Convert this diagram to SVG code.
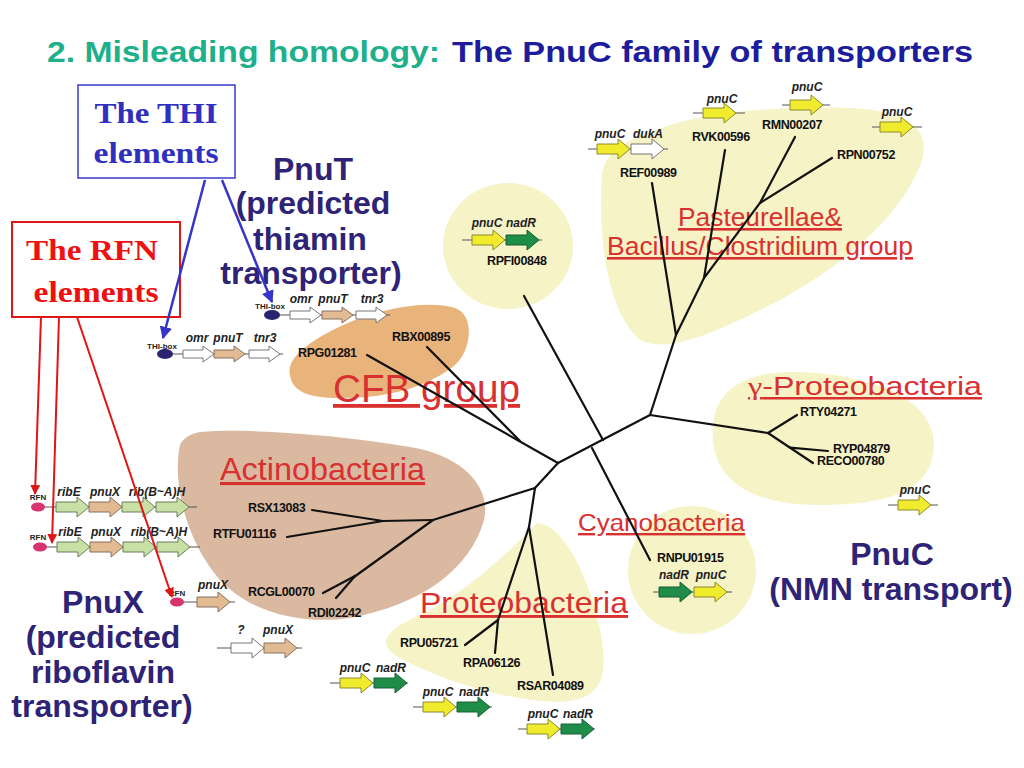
<svg xmlns="http://www.w3.org/2000/svg" xmlns:xlink="http://www.w3.org/1999/xlink" width="1024" height="768" viewBox="0 0 1024 768">
<style>
text{font-family:"Liberation Sans",Arial,sans-serif}
.ttl{font-size:30px;font-weight:bold}
.big{font-size:32px;font-weight:bold;fill:#2e2375;text-anchor:middle}
.box{font-family:"Liberation Serif","Times New Roman",serif;font-size:30px;font-weight:bold;text-anchor:middle}
.grp{fill:#d93030;text-decoration:underline}
.id{font-size:12.5px;font-weight:bold;fill:#111;letter-spacing:-0.4px}
.gn{font-size:12px;font-weight:bold;font-style:italic;fill:#222;text-anchor:middle}
.sm{font-size:8px;font-weight:bold;fill:#222;text-anchor:middle}
.tree{stroke:#111;stroke-width:2.2;fill:none;stroke-linecap:round}
.gl{stroke:#555;stroke-width:1}
.yel{fill:#f1eb2e;stroke:#8b8a2a;stroke-width:1}
.grn{fill:#1f8c48;stroke:#156038;stroke-width:1}
.lgr{fill:#c9e0a5;stroke:#6b7d5c;stroke-width:1}
.tan{fill:#e2bb93;stroke:#86705e;stroke-width:1}
.wht{fill:#ffffff;stroke:#777;stroke-width:1}
.ylb{fill:#f6f3c7}
</style>
<defs>
<path id="ga" d="M0,-5 H21 V-10 L33,0 L21,10 V5 H0 Z"/>
<path id="gs" d="M0,-4 H20 V-8 L31,0 L20,8 V4 H0 Z"/>
<marker id="mb" viewBox="0 0 10 10" refX="9" refY="5" markerWidth="5" markerHeight="5" orient="auto"><path d="M0,0 L10,5 L0,10 Z" fill="#3535c8"/></marker>
<marker id="mr" viewBox="0 0 10 10" refX="9" refY="5" markerWidth="5" markerHeight="5" orient="auto"><path d="M0,0 L10,5 L0,10 Z" fill="#e01515"/></marker>
</defs>
<rect width="1024" height="768" fill="#fff"/>

<g id="title">
<text class="ttl" x="47" y="62" fill="#1db08a" textLength="393" lengthAdjust="spacingAndGlyphs">2. Misleading homology:</text>
<text class="ttl" x="452" y="62" fill="#1c1c9c" textLength="521" lengthAdjust="spacingAndGlyphs">The PnuC family of transporters</text>
</g>

<g id="blobs">
<path id="blob-pasteurellae" class="ylb" d="M602,175 C598,230 605,310 640,340 C670,355 720,330 780,300 C850,262 905,210 922,160 C932,125 900,110 850,108 C790,106 720,110 670,125 C630,138 604,150 602,175 Z"/>
<ellipse id="blob-rpfi" class="ylb" cx="508" cy="246" rx="65" ry="63"/>
<path id="blob-cfb" fill="#e9b47c" d="M290,375 C285,355 320,335 350,322 C385,307 430,300 455,308 C475,315 472,350 455,365 C430,385 395,398 340,398 C305,398 292,390 290,375 Z"/>
<path id="blob-actino" fill="#dab9a0" d="M180,445 C172,480 185,540 220,580 C250,612 300,625 350,618 C420,605 470,570 484,520 C492,485 460,455 410,447 C340,435 250,428 200,432 C188,434 182,440 180,445 Z"/>
<path id="blob-gamma" class="ylb" d="M713,440 C708,395 740,372 790,372 C860,372 935,395 934,445 C933,490 890,505 820,505 C750,505 716,480 713,440 Z"/>
<path id="blob-proteo" class="ylb" d="M537,523 C565,525 590,580 600,630 C610,680 600,700 560,702 C510,702 440,680 400,658 C375,645 385,630 420,615 C470,590 505,555 537,523 Z"/>
<circle id="blob-cyano" class="ylb" cx="692" cy="570" r="64"/>
</g>

<g id="group-labels">
<text class="grp" x="678" y="226" font-size="26" textLength="164" lengthAdjust="spacingAndGlyphs">Pasteurellae&amp;</text>
<text class="grp" x="607" y="255" font-size="26" textLength="306" lengthAdjust="spacingAndGlyphs">Bacillus/Clostridium group</text>
<text class="grp" x="333" y="402" font-size="38" textLength="187" lengthAdjust="spacingAndGlyphs">CFB group</text>
<text class="grp" x="748" y="395" font-size="25" textLength="234" lengthAdjust="spacingAndGlyphs"><tspan font-family="Liberation Serif,serif">γ</tspan>-Proteobacteria</text>
<text class="grp" x="220" y="480" font-size="31" textLength="205" lengthAdjust="spacingAndGlyphs">Actinobacteria</text>
<text class="grp" x="578" y="531" font-size="24" textLength="167" lengthAdjust="spacingAndGlyphs">Cyanobacteria</text>
<text class="grp" x="420" y="613" font-size="29" textLength="208" lengthAdjust="spacingAndGlyphs">Proteobacteria</text>
</g>

<g id="tree" class="tree">
<path d="M367,355 L558,463"/>
<path d="M427,347 L520,441"/>
<path d="M558,463 L650,415"/>
<path d="M524,296 L603,440"/>
<path d="M592,448 L650,560"/>
<path d="M650,415 L768,433"/>
<path d="M768,433 L797,415"/>
<path d="M768,433 L813,463"/>
<path d="M790,447.7 L828,451"/>
<path d="M650,415 L676,335"/>
<path d="M652,183 L676,335"/>
<path d="M676,335 L704,278 L760,203 L795,137"/>
<path d="M725,150 L704,278"/>
<path d="M832,158 L760,203"/>
<path d="M558,463 L535,488"/>
<path d="M535,488 L433,520"/>
<path d="M433,520 L383,521"/>
<path d="M383,521 L312,510"/>
<path d="M383,521 L287,537"/>
<path d="M433,520 L354,577"/>
<path d="M355,576 L323,593"/>
<path d="M355,576 L336,598"/>
<path d="M535,488 L529,527"/>
<path d="M529,527 L498,620"/>
<path d="M498,620 L465,645"/>
<path d="M498,620 L495,653"/>
<path d="M529,527 L553,675"/>
</g>

<g id="leaf-labels" class="id">
<text x="620" y="177">REF00989</text>
<text x="692" y="141">RVK00596</text>
<text x="762" y="129">RMN00207</text>
<text x="837" y="159">RPN00752</text>
<text x="487" y="265">RPFI00848</text>
<text x="392" y="341">RBX00895</text>
<text x="298" y="357">RPG01281</text>
<text x="800" y="416">RTY04271</text>
<text x="833" y="453">RYP04879</text>
<text x="817" y="465">RECO00780</text>
<text x="248" y="512">RSX13083</text>
<text x="213" y="538">RTFU01116</text>
<text x="248" y="596">RCGL00070</text>
<text x="308" y="617">RDI02242</text>
<text x="657" y="562">RNPU01915</text>
<text x="400" y="647">RPU05721</text>
<text x="463" y="667">RPA06126</text>
<text x="517" y="690">RSAR04089</text>
</g>

<g id="operon-ref">
<line class="gl" x1="588" y1="149" x2="668" y2="149"/>
<use href="#ga" class="yel" transform="translate(597,149)"/>
<use href="#ga" class="wht" transform="translate(631,149)"/>
<text class="gn" x="610" y="138">pnuC</text><text class="gn" x="648" y="138">dukA</text>
</g>
<g id="operon-rvk">
<line class="gl" x1="693" y1="113" x2="745" y2="113"/>
<use href="#ga" class="yel" transform="translate(703,113)"/>
<text class="gn" x="722" y="103">pnuC</text>
</g>
<g id="operon-rmn">
<line class="gl" x1="782" y1="105" x2="830" y2="105"/>
<use href="#ga" class="yel" transform="translate(790,105)"/>
<text class="gn" x="807" y="91">pnuC</text>
</g>
<g id="operon-rpn">
<line class="gl" x1="872" y1="127" x2="922" y2="127"/>
<use href="#ga" class="yel" transform="translate(880,127)"/>
<text class="gn" x="897" y="116">pnuC</text>
</g>
<g id="operon-rpfi">
<line class="gl" x1="462" y1="240" x2="542" y2="240"/>
<use href="#ga" class="yel" transform="translate(472,240)"/>
<use href="#ga" class="grn" transform="translate(506,240)"/>
<text class="gn" x="487" y="227">pnuC</text><text class="gn" x="521" y="227">nadR</text>
</g>
<g id="operon-cyano">
<line class="gl" x1="653" y1="592" x2="732" y2="592"/>
<use href="#ga" class="grn" transform="translate(659,592)"/>
<use href="#ga" class="yel" transform="translate(694,592)"/>
<text class="gn" x="674" y="579">nadR</text><text class="gn" x="711" y="579">pnuC</text>
</g>
<g id="operon-gamma">
<line class="gl" x1="888" y1="505" x2="938" y2="505"/>
<use href="#ga" class="yel" transform="translate(898,505)"/>
<text class="gn" x="915" y="494">pnuC</text>
</g>
<g id="operon-proteo1">
<line class="gl" x1="330" y1="683" x2="408" y2="683"/>
<use href="#ga" class="yel" transform="translate(340,683)"/>
<use href="#ga" class="grn" transform="translate(374,683)"/>
<text class="gn" x="355" y="672">pnuC</text><text class="gn" x="391" y="672">nadR</text>
</g>
<g id="operon-proteo2">
<line class="gl" x1="413" y1="707" x2="492" y2="707"/>
<use href="#ga" class="yel" transform="translate(423,707)"/>
<use href="#ga" class="grn" transform="translate(457,707)"/>
<text class="gn" x="438" y="696">pnuC</text><text class="gn" x="474" y="696">nadR</text>
</g>
<g id="operon-proteo3">
<line class="gl" x1="518" y1="729" x2="595" y2="729"/>
<use href="#ga" class="yel" transform="translate(527,729)"/>
<use href="#ga" class="grn" transform="translate(561,729)"/>
<text class="gn" x="543" y="718">pnuC</text><text class="gn" x="578" y="718">nadR</text>
</g>

<g id="operon-thi-upper">
<line class="gl" x1="278" y1="315" x2="390" y2="315"/>
<ellipse cx="272" cy="315" rx="8" ry="5" fill="#2a2470"/>
<use href="#gs" class="wht" transform="translate(290,315)"/>
<use href="#gs" class="tan" transform="translate(322,315)"/>
<use href="#gs" class="wht" transform="translate(356,315)"/>
<text class="sm" x="270" y="309">THI-box</text>
<text class="gn" x="301" y="303">omr</text><text class="gn" x="333" y="303">pnuT</text><text class="gn" x="372" y="303">tnr3</text>
</g>
<g id="operon-thi-lower">
<line class="gl" x1="170" y1="354" x2="283" y2="354"/>
<ellipse cx="165" cy="354" rx="8" ry="5" fill="#2a2470"/>
<use href="#gs" class="wht" transform="translate(183,354)"/>
<use href="#gs" class="tan" transform="translate(214,354)"/>
<use href="#gs" class="wht" transform="translate(249,354)"/>
<text class="sm" x="162" y="349">THI-box</text>
<text class="gn" x="197" y="342">omr</text><text class="gn" x="228" y="342">pnuT</text><text class="gn" x="265" y="342">tnr3</text>
</g>

<g id="operon-rfn1">
<line class="gl" x1="43" y1="507" x2="197" y2="507"/>
<ellipse cx="38" cy="507" rx="7" ry="4.5" fill="#d6336f"/>
<use href="#ga" class="lgr" transform="translate(56,507)"/>
<use href="#ga" class="tan" transform="translate(89,507)"/>
<use href="#ga" class="lgr" transform="translate(122,507)"/>
<use href="#ga" class="lgr" transform="translate(156,507)"/>
<text class="sm" x="38" y="500">RFN</text>
<text class="gn" x="69" y="496">ribE</text><text class="gn" x="105" y="496">pnuX</text><text class="gn" x="157" y="496">rib(B~A)H</text>
</g>
<g id="operon-rfn2">
<line class="gl" x1="46" y1="547" x2="200" y2="547"/>
<ellipse cx="40" cy="547" rx="7" ry="4.5" fill="#d6336f"/>
<use href="#ga" class="lgr" transform="translate(57,547)"/>
<use href="#ga" class="tan" transform="translate(90,547)"/>
<use href="#ga" class="lgr" transform="translate(123,547)"/>
<use href="#ga" class="lgr" transform="translate(157,547)"/>
<text class="sm" x="38" y="540">RFN</text>
<text class="gn" x="70" y="536">ribE</text><text class="gn" x="106" y="536">pnuX</text><text class="gn" x="159" y="536">rib(B~A)H</text>
</g>
<g id="operon-rfn3">
<line class="gl" x1="182" y1="602" x2="235" y2="602"/>
<ellipse cx="177" cy="602" rx="7" ry="4.5" fill="#d6336f"/>
<use href="#ga" class="tan" transform="translate(197,602)"/>
<text class="sm" x="177" y="596">RFN</text>
<text class="gn" x="213" y="589">pnuX</text>
</g>
<g id="operon-q">
<line class="gl" x1="217" y1="648" x2="302" y2="648"/>
<use href="#ga" class="wht" transform="translate(231,648)"/>
<use href="#ga" class="tan" transform="translate(264,648)"/>
<text class="gn" x="241" y="634">?</text><text class="gn" x="278" y="634">pnuX</text>
</g>

<g id="thi-box">
<rect x="78" y="85" width="157" height="93" fill="#fff" stroke="#3a3ad0" stroke-width="1.5"/>
<text class="box" x="156" y="123" fill="#3030c0" textLength="123" lengthAdjust="spacingAndGlyphs">The THI</text>
<text class="box" x="156" y="163" fill="#3030c0" textLength="125" lengthAdjust="spacingAndGlyphs">elements</text>
</g>
<g id="rfn-box">
<rect x="12" y="222" width="168" height="95" fill="#fff" stroke="#e01515" stroke-width="2"/>
<text class="box" x="92" y="260" fill="#ee1111" textLength="132" lengthAdjust="spacingAndGlyphs">The RFN</text>
<text class="box" x="96" y="302" fill="#ee1111" textLength="125" lengthAdjust="spacingAndGlyphs">elements</text>
</g>

<g id="pnut-label">
<text class="big" x="313" y="180">PnuT</text>
<text class="big" x="313" y="214">(predicted</text>
<text class="big" x="310" y="250">thiamin</text>
<text class="big" x="311" y="284">transporter)</text>
</g>
<g id="pnux-label">
<text class="big" x="103" y="613">PnuX</text>
<text class="big" x="103" y="648">(predicted</text>
<text class="big" x="103" y="683">riboflavin</text>
<text class="big" x="102" y="717">transporter)</text>
</g>
<g id="pnuc-label">
<text class="big" x="892" y="565">PnuC</text>
<text class="big" x="891" y="600">(NMN transport)</text>
</g>

<g id="connectors" fill="none">
<line x1="205" y1="180" x2="163" y2="338" stroke="#3535c8" stroke-width="2.5" marker-end="url(#mb)"/>
<line x1="222" y1="180" x2="272" y2="302" stroke="#3535c8" stroke-width="2.5" marker-end="url(#mb)"/>
<line x1="41" y1="317" x2="35" y2="494" stroke="#e01515" stroke-width="2" marker-end="url(#mr)"/>
<line x1="59" y1="317" x2="52" y2="543" stroke="#e01515" stroke-width="2" marker-end="url(#mr)"/>
<line x1="77" y1="317" x2="172" y2="597" stroke="#e01515" stroke-width="2" marker-end="url(#mr)"/>
</g>
</svg>
